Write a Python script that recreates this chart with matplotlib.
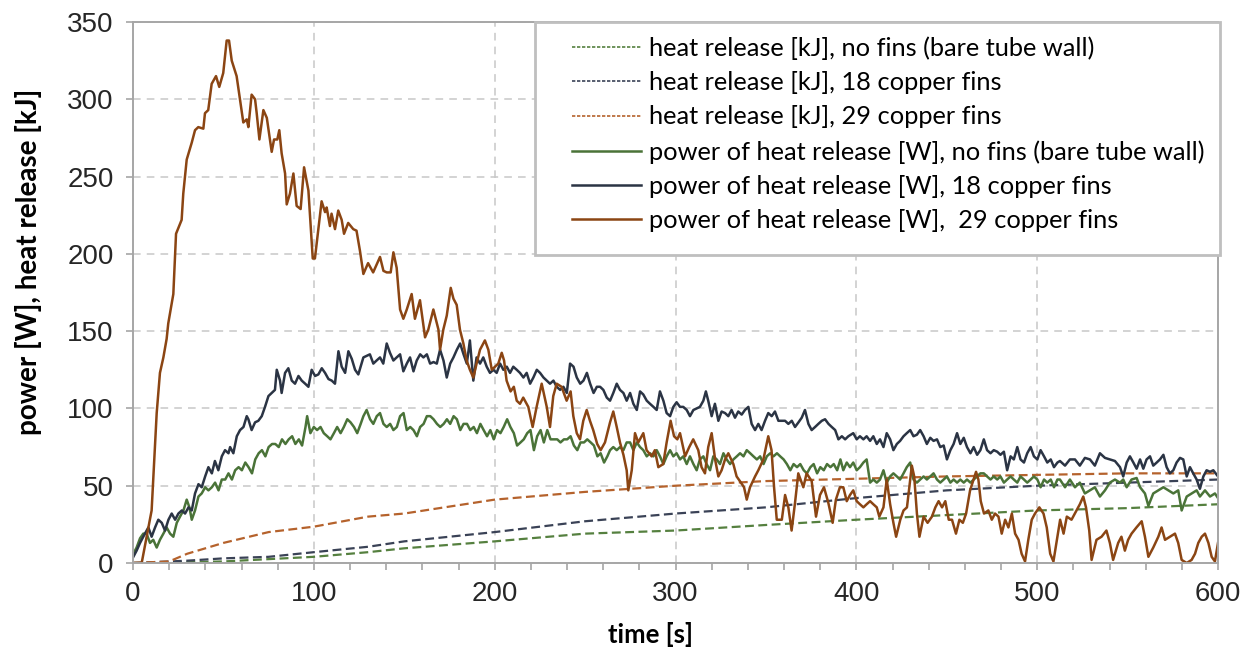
import matplotlib
matplotlib.use("Agg")
import matplotlib.pyplot as plt
from matplotlib.lines import Line2D
from matplotlib.patches import Rectangle

# power of heat release [W], 29 copper fins
t_p29 = [0, 4.8, 10.3, 13.1, 14.9, 16.8, 18.6, 19.5, 22.3, 23.8, 26.9, 27.8, 29.7, 32.5, 34.3, 36.1, 38.9, 39.8,
         41.6, 43.5, 45.9, 47.7, 49.9, 51.8, 53.1, 54.6, 57.3, 61, 62.9, 63.8, 65.6, 67.5, 68.4, 69.9, 72.1, 74,
         76.7, 78, 79.8, 80.9, 82.2, 84.1, 85, 86.8, 88.7, 90.5, 92.7, 94.6, 97, 99.4, 100.6, 104.3, 106.2, 107.1,
         108.9, 109.8, 111.7, 113.5, 115.4, 116.7, 119, 121.8, 123.6, 125.5, 127.4, 130, 132.8, 136.6, 138.5,
         140.3, 142.5, 144, 145.8, 147.7, 149.5, 151.4, 154.1, 155.9, 158.7, 161.5, 163.3, 166.1, 168.9, 169.8,
         171.6, 173.5, 175.7, 177.2, 179, 180.8, 182.7, 184.5, 186.3, 188.2, 190, 191.9, 194.6, 196.5, 198.4,
         200.2, 202, 203.9, 205.2, 206.6, 208.8, 210.6, 212.2, 214, 215.8, 218.6, 221, 223.2, 226, 228.8, 230.6,
         232.4, 234.3, 237, 239.8, 242, 243.5, 245.4, 247.2, 249, 250.9, 252.7, 254.5, 256.7, 258.6, 261, 263.8,
         265.6, 267.5, 269.3, 271.2, 273, 273.9, 275.8, 277.6, 279.4, 282.2, 284, 286.8, 288.6, 290.5, 293.2,
         295.1, 297.3, 299.2, 301, 302.5, 305.3, 307.6, 309.8, 312.6, 314.4, 316.3, 318.1, 320, 321.9, 323.7,
         325.5, 327.4, 329.2, 332, 333.8, 335.6, 337.9, 339.4, 341.2, 344, 345.8, 348.6, 351.3, 353.1, 354.5, 356,
         358.8, 360.6, 362.4, 364.2, 366.1, 367.9, 370.7, 372.5, 375.3, 377.7, 379.9, 382.1, 384.5, 386.9, 388.7,
         390.9, 392.8, 394.7, 396.5, 398.3, 400.2, 402, 403.9, 405.7, 407.6, 409.4, 411.3, 412.7, 415, 416.8,
         418.7, 420.5, 422, 424.3, 426.1, 428, 429.8, 430.7, 432, 433.5, 434.9, 437.2, 439.4, 441.8, 443.7, 445.5,
         447.4, 449.2, 451.1, 452.9, 455.1, 457, 458.9, 460.7, 462.9, 464.8, 466.2, 467.5, 468.8, 470.6, 473,
         474.9, 476.7, 478.6, 480.4, 482.3, 484.1, 486, 487.8, 489.7, 491.4, 493.3, 495.1, 497, 498.8, 501.2,
         503.5, 505.3, 507.2, 509, 510.9, 512.7, 514.6, 516.4, 519, 521.8, 523.6, 525.5, 527, 528.8, 530.1, 532.8,
         535.6, 538.3, 540.2, 542, 544.8, 546.6, 548.5, 550.3, 552.2, 554.9, 557.8, 559.6, 561.5, 564.2, 567,
         568.8, 570.7, 573.4, 576.2, 578, 579.9, 582.7, 585.4, 587.3, 589.1, 591, 592.8, 594.7, 596.5, 598.3, 600]
p29 = [0, 0, 34, 97, 123, 133, 145, 155, 174, 213, 222, 239, 261, 272, 280, 282, 281, 291,
       293, 310, 315, 308, 317, 338, 338, 325, 315, 285, 287, 282, 303, 300, 291, 274, 293, 288,
       266, 274, 274, 280, 265, 252, 232, 239, 252, 231, 229, 256, 241, 197, 197, 234, 227, 230,
       218, 226, 216, 228, 222, 213, 220, 216, 215, 202, 187, 194, 188, 198, 189,
       188, 188, 201, 191, 164, 158, 164, 174, 158, 170, 146, 151, 164, 151, 138,
       151, 160, 178, 171, 167, 151, 142, 131, 125, 120, 129, 138, 144, 138, 125,
       127, 129, 136, 131, 118, 111, 114, 105, 103, 107, 101, 88, 101, 116, 101, 88,
       108, 116, 114, 105, 111, 95, 84, 80, 92, 99, 92, 86, 77, 73, 78, 91,
       98, 88, 78, 70, 60, 47, 60, 84, 78, 84, 73, 69, 73, 62, 64,
       78, 92, 82, 80, 84, 69, 75, 80, 73, 62, 58, 75, 84, 67, 56,
       60, 67, 71, 64, 56, 53, 49, 41, 49, 56, 60, 67, 82, 73, 49, 28,
       28, 44, 36, 21, 39, 58, 49, 58, 53, 30, 44, 49, 39, 26, 41,
       49, 49, 40, 44, 47, 40, 38, 36, 38, 40, 38, 36, 30, 36, 54,
       38, 26, 17, 28, 34, 36, 54, 63, 56, 32, 17, 30, 26, 30, 36, 40,
       36, 40, 28, 28, 19, 28, 26, 32, 47, 54, 59, 54, 40, 32, 34,
       28, 32, 30, 19, 28, 23, 32, 19, 15, 6, 1, 15, 28, 32, 36,
       32, 23, 6, 1, 15, 28, 19, 30, 28, 34, 38, 43, 36, 21, 2, 15,
       17, 21, 13, 2, 13, 17, 8, 15, 19, 23, 27, 17, 4, 10, 17,
       23, 15, 17, 19, 13, 2, 0, 2, 6, 13, 17, 19, 13, 4, 1, 13]

# power of heat release [W], 18 copper fins
t_p18 = [0.2, 2, 3.9, 6.6, 8.5, 10.3, 12.2, 14, 15.9, 17.7, 19.6, 21.4, 23.3, 25.1, 27, 28.8, 30.7, 32.5, 34.3,
         36.2, 38, 39.9, 41.7, 43.6, 45.3, 47.2, 49.1, 50.9, 52.8, 53.7, 55.5, 57.4, 59.2, 61.1, 62.9, 63.8, 65.6,
         67.5, 69.3, 71.2, 73, 74.9, 76.7, 78.5, 79.5, 81.3, 82.2, 84.1, 85.9, 87.8, 89.6, 91.5, 93.3, 95.2, 97,
         98.8, 100.7, 102.5, 104.4, 106.2, 108.1, 109.9, 111.7, 113.6, 115.4, 117.3, 119.1, 121, 122.8, 124.6,
         127.4, 129.2, 131, 132.9, 134.7, 136.6, 138.4, 140.3, 142.1, 144, 145.8, 147.7, 149.5, 151.4, 153.2,
         155.1, 156.9, 158.8, 160.6, 162.5, 164.3, 166.2, 168, 169.8, 171.7, 173.5, 175.4, 177.2, 179.1, 180.9,
         182.8, 184.6, 186.3, 188.2, 190, 191.9, 193.7, 195.6, 197.4, 199.3, 201.1, 203, 204.8, 206.7, 208.5,
         210.3, 212.2, 214, 215.9, 217.7, 219.6, 221.4, 223.3, 225.1, 227, 228.8, 230.6, 232.5, 234.3, 236.2,
         238, 239.9, 241.7, 243.6, 245.4, 247.3, 249.1, 251, 252.8, 254.7, 256.5, 258.3, 260.1, 262, 263.8,
         265.6, 267.5, 269.3, 271.2, 273, 274.9, 276.7, 278.6, 280.4, 282.2, 284.1, 285.9, 287.8, 289.6, 291.4,
         293.3, 295.1, 297, 298.8, 300.6, 302.5, 304.3, 306.2, 308, 309.9, 311.7, 313.5, 315.4, 316.8, 318.1,
         320, 321.8, 323.7, 325.5, 327.4, 329.2, 331, 332.9, 334.7, 336.6, 338.4, 340.3, 342.1, 344, 345.8,
         347.6, 349.5, 351.3, 353.2, 355, 356.9, 358.7, 360.6, 362.4, 364.3, 366.1, 368, 369.8, 371.6, 373.5,
         375.3, 377.2, 379, 380.9, 382.7, 384.6, 386.4, 388.3, 390.1, 392, 393.8, 395.6, 398.3, 400.2, 402,
         403.9, 405.7, 407.6, 409.4, 411.3, 413.1, 415, 416.8, 418.7, 420.5, 422.4, 424.2, 426.1, 427.9, 429.8,
         431.6, 433.5, 435.3, 437.2, 439, 440.9, 442.7, 444.6, 446.4, 448.3, 450.1, 452, 453.8, 455.7, 457.5,
         459.4, 461.2, 463.1, 464.9, 466.8, 468.6, 470.5, 472.3, 474.2, 476, 477.9, 479.7, 481.6, 483.4, 485.3,
         487.1, 489, 490.8, 492.7, 494.5, 496.4, 498.2, 500.1, 501.9, 503.8, 505.6, 507.5, 509.3, 511.2, 512.6,
         515.4, 518.1, 520.9, 523.6, 526.4, 529.2, 531.9, 534.7, 537.5, 540.2, 543, 545.8, 547.6, 549.5, 551.3,
         553.2, 555, 556.9, 558.7, 560.5, 562.4, 564.2, 566.1, 567.9, 569.8, 571.6, 573.4, 575.3, 577.1, 579,
         580.8, 582.7, 584.5, 586.3, 588.2, 590, 591.9, 593.7, 595.6, 597.4, 600]
p18 = [4, 8, 13, 19, 23, 17, 23, 28, 26, 21, 28, 32, 28, 32, 34, 32, 36, 34, 45,
       51, 49, 56, 62, 58, 66, 60, 69, 73, 71, 75, 71, 82, 86, 88, 95, 93, 86,
       91, 92, 95, 101, 108, 110, 112, 125, 118, 110, 123, 126, 118, 116, 121, 118, 116, 114,
       125, 121, 122, 126, 123, 119, 118, 116, 137, 127, 123, 137, 132, 125, 122,
       133, 134, 135, 129, 131, 133, 129, 142, 136, 131, 133, 135, 124, 129, 133,
       124, 131, 135, 133, 135, 129, 130, 129, 138, 131, 120, 129, 133, 138, 142,
       135, 129, 144, 118, 133, 129, 133, 127, 123, 125, 123, 129, 125, 127, 123,
       127, 125, 123, 120, 123, 116, 120, 125, 123, 120, 118, 116, 118, 114, 112,
       114, 110, 129, 127, 120, 116, 118, 123, 116, 110, 114, 114, 112, 107, 105,
       110, 116, 112, 110, 105, 110, 103, 99, 111, 109, 105, 103, 101, 99, 111,
       105, 97, 95, 101, 104, 101, 101, 99, 95, 99, 100, 101, 105, 111, 105,
       95, 103, 92, 98, 97, 95, 99, 94, 98, 96, 99, 101, 90, 86, 90,
       86, 92, 97, 95, 98, 92, 92, 92, 90, 92, 88, 91, 94, 99, 90,
       86, 88, 90, 92, 93, 90, 88, 86, 80, 82, 80, 82, 84, 80, 82,
       80, 82, 79, 82, 77, 80, 75, 84, 80, 73, 77, 79, 82, 84, 86,
       82, 83, 86, 82, 77, 81, 79, 80, 75, 76, 67, 73, 77, 84, 77,
       81, 75, 71, 75, 70, 73, 80, 73, 71, 73, 72, 70, 72, 60, 69,
       67, 75, 67, 65, 71, 75, 69, 67, 73, 69, 65, 67, 62, 65, 66,
       63, 67, 67, 63, 68, 67, 63, 71, 68, 67, 66, 62, 56, 65, 69,
       65, 61, 67, 61, 67, 69, 63, 65, 67, 70, 62, 58, 60, 65, 68,
       67, 56, 62, 58, 54, 48, 56, 60, 59, 60, 56]

# power of heat release [W], no fins
t_p0 = [0.2, 2, 3.9, 5.7, 7.5, 9.4, 11.2, 13.1, 14.9, 16.8, 18.6, 20.5, 22.3, 24.2, 26, 27.9, 29.7, 31.2, 32.5,
        34.3, 36.2, 38, 39.9, 41.7, 43.6, 45.4, 47.3, 49.1, 51, 52.8, 54.7, 56.5, 58.4, 60.2, 62.1, 63.9, 65.8,
        67.6, 69.5, 71.3, 73.2, 75, 76.9, 78.7, 80.6, 82.4, 84.3, 86.1, 88, 89.8, 91.7, 93.5, 95.4, 96.3, 98.1,
        100, 101.8, 103.7, 105.5, 107.4, 109.2, 111.1, 112.9, 114.8, 116.6, 118.5, 120.3, 122.2, 124, 125.9,
        127.4, 129.2, 131.1, 132.9, 134.8, 136.6, 138.5, 140.3, 142.2, 144, 145.9, 147.7, 149.6, 151.4, 153.3,
        155.1, 157, 158.8, 160.7, 162.5, 164.4, 166.2, 168.1, 169.9, 171.8, 173.6, 175.4, 177.3, 179.1, 181,
        182.8, 184.7, 186.5, 188.4, 190.2, 192.1, 193.9, 195.8, 197.6, 199.5, 201.3, 203.2, 205, 206.9, 208.7,
        210.6, 212.4, 214.3, 216.1, 218, 219.8, 221.7, 223.5, 225.4, 227.2, 229.1, 230.9, 232.8, 234.6, 236.4,
        238.3, 240.1, 242, 243.8, 245.7, 247.5, 249.4, 251.2, 253.1, 254.9, 256.8, 258.6, 260.5, 262.3, 263.8,
        265.6, 267.5, 269.3, 271.2, 273, 274.9, 276.7, 278.6, 280.4, 282.2, 284.1, 285.9, 287.8, 289.6, 291.4,
        293.3, 295.1, 297, 298.8, 300.6, 302.5, 304.3, 306.2, 308, 309.9, 311.7, 313.5, 315.4, 317.2, 319.1,
        320.9, 322.8, 324.6, 326.5, 328.3, 330.2, 332, 333.9, 335.7, 337.6, 339.4, 341.3, 343.1, 345, 346.8,
        348.7, 350.5, 352.4, 354.2, 356.1, 357.9, 359.8, 361.6, 363.5, 365.3, 367.2, 369, 370.9, 372.7, 374.6,
        376.4, 378.3, 380.1, 382, 383.8, 385.7, 387.5, 389.4, 391.2, 392.8, 394.7, 396.5, 398.3, 400.2, 402,
        403.9, 405.7, 407.6, 409.4, 411.3, 413.1, 415, 416.8, 418.7, 420.5, 422.4, 424.2, 426.1, 427.9, 429.8,
        431.6, 433.5, 435.3, 437.2, 439, 440.9, 442.7, 444.6, 446.4, 448.3, 450.1, 452, 453.8, 455.7, 457.5,
        459.4, 461.2, 463.1, 464.9, 466.8, 468.6, 470.5, 472.3, 474.2, 476, 477.9, 479.7, 481.6, 483.4, 485.3,
        487.1, 489, 490.8, 492.7, 494.5, 496.4, 498.2, 500.1, 501.9, 503.8, 505.6, 507.5, 509.3, 511.2, 512.6,
        515.4, 518.1, 520.9, 523.6, 526.4, 529.2, 531.9, 534.7, 537.5, 540.2, 543, 545.8, 547.6, 549.5, 552.2,
        555, 556.9, 559.6, 561.5, 564.2, 567, 569.8, 572.5, 575.3, 578, 579.9, 582.7, 585.4, 588.2, 590, 592.8,
        595.6, 598.3, 600]
p0 = [6, 10, 16, 19, 19, 13, 15, 10, 15, 19, 23, 19, 17, 26, 30, 34, 41, 36, 28,
      34, 43, 45, 49, 47, 49, 52, 47, 54, 54, 58, 54, 60, 62, 60, 65, 62, 58,
      67, 71, 73, 69, 75, 77, 77, 75, 80, 77, 80, 82, 77, 80, 76, 88, 95, 84,
      88, 86, 88, 84, 82, 80, 84, 88, 84, 88, 93, 91, 88, 84, 90,
      95, 99, 93, 90, 95, 97, 90, 88, 90, 86, 88, 95, 97, 86, 88,
      86, 82, 88, 90, 95, 95, 93, 90, 88, 90, 93, 90, 95, 93, 86,
      90, 90, 86, 88, 84, 90, 86, 82, 86, 80, 86, 84, 88, 93, 88,
      84, 76, 78, 80, 84, 86, 73, 82, 86, 78, 86, 80, 80, 80, 78,
      80, 80, 82, 76, 73, 78, 78, 80, 78, 76, 69, 71, 65, 69, 73,
      75, 73, 75, 73, 78, 78, 73, 78, 75, 73, 69, 71, 69, 73, 69,
      64, 69, 73, 69, 71, 67, 69, 64, 69, 64, 60, 67, 69, 64, 60,
      69, 67, 64, 71, 67, 64, 67, 69, 71, 69, 73, 71, 69, 67, 69,
      64, 69, 71, 69, 71, 69, 67, 64, 60, 64, 62, 64, 60, 58, 62,
      64, 58, 62, 60, 64, 62, 64, 60, 67, 60, 65, 62, 65, 60, 62,
      65, 67, 52, 54, 52, 54, 60, 52, 56, 58, 56, 54, 58, 62, 65,
      54, 52, 54, 56, 54, 56, 58, 54, 52, 54, 56, 52, 54, 52, 54,
      52, 54, 52, 54, 56, 58, 58, 56, 54, 56, 54, 56, 52, 54, 56,
      54, 52, 56, 54, 52, 54, 56, 54, 49, 54, 52, 54, 49, 54, 54,
      49, 54, 49, 52, 45, 47, 49, 43, 47, 52, 54, 52, 54, 49, 54,
      55, 49, 45, 37, 45, 47, 49, 47, 45, 47, 34, 43, 45, 47, 43, 47,
      43, 45, 42]

# cumulative heat release [kJ]
t_q = [0, 20, 30, 50, 75, 100, 130, 150, 200, 250, 300, 350, 400, 450, 500, 550, 600]
q0 = [0, 0, 0.5, 1, 2.5, 4, 7, 9.5, 14, 19, 21, 24.6, 28, 31, 34, 35.5, 38]
q18 = [0, 1, 1.5, 3, 4, 7, 10.5, 14, 20, 27, 32, 36, 42, 47, 50, 52, 54]
q29 = [0, 1, 6, 13, 20, 23.5, 30, 32, 41, 46, 50, 53, 54.5, 56, 57, 58, 58]

labels = ["heat release [kJ], no fins (bare tube wall)",
          "heat release [kJ], 18 copper fins",
          "heat release [kJ], 29 copper fins",
          "power of heat release [W], no fins (bare tube wall)",
          "power of heat release [W], 18 copper fins",
          "power of heat release [W],  29 copper fins"]

green = "#4a7338"
navy = "#2b3444"
brown = "#8b4513"
green_d = "#55803f"
navy_d = "#3a4256"
brown_d = "#b5622c"

fig = plt.figure(figsize=(12.53, 6.55), dpi=100)
ax = fig.add_axes([133 / 1253, 92 / 655, 1085 / 1253, 541 / 655])

ax.plot(t_q, q0, color=green_d, lw=1.6, ls=(0, (4, 2)))
ax.plot(t_q, q18, color=navy_d, lw=1.6, ls=(0, (4, 2)))
ax.plot(t_q, q29, color=brown_d, lw=1.6, ls=(0, (4, 2)))
ax.plot(t_p0, p0, color=green, lw=1.8)
ax.plot(t_p18, p18, color=navy, lw=1.8)
ax.plot(t_p29, p29, color=brown, lw=1.8)

ax.set_xlim(0, 600)
ax.set_ylim(0, 350)
ax.set_xticks(range(0, 601, 100))
ax.set_xticks(range(0, 601, 20), minor=True)
ax.set_yticks(range(0, 351, 50))
ax.set_axisbelow(True)
ax.grid(True, which="major", color="#c8c8c8", lw=1.1, ls=(0, (5, 4)))
for s in ax.spines.values():
    s.set_color("#a6a6a6")
    s.set_linewidth(1.4)
ax.tick_params(which="both", direction="out", length=5, color="#a6a6a6", width=1.2)
ax.tick_params(axis="y", labelsize=20, pad=9)
ax.tick_params(axis="x", labelsize=20, pad=8)
for lab in ax.get_xticklabels() + ax.get_yticklabels():
    lab.set_family("Liberation Sans")
    lab.set_color("#262626")

ax.set_xlabel("time [s]", fontsize=18.5, fontweight="bold", family="Lato")
ax.set_ylabel("power [W], heat release [kJ]", fontsize=20, fontweight="bold", family="Lato")
ax.xaxis.set_label_coords((650 - 133) / 1085, (563 - 622) / 541)
ax.yaxis.set_label_coords((42 - 133) / 1085, (563 - 262) / 541)

# legend frame drawn separately so the entries can sit indented inside it
box = Rectangle(((535 - 133) / 1085, (563 - 255) / 541), (1220 - 535) / 1085, (255 - 22) / 541,
                transform=ax.transAxes, facecolor="white", edgecolor="#bfbfbf", lw=2, zorder=4, clip_on=False)
ax.add_patch(box)

handles = [Line2D([], [], color=green_d, lw=1.2, ls=(0, (2, 1))),
           Line2D([], [], color=navy_d, lw=1.2, ls=(0, (2, 1))),
           Line2D([], [], color=brown_d, lw=1.2, ls=(0, (2, 1))),
           Line2D([], [], color=green, lw=1.8),
           Line2D([], [], color=navy, lw=1.8),
           Line2D([], [], color=brown, lw=1.8)]
leg = ax.legend(handles, labels, loc="upper left", bbox_to_anchor=((572 - 133) / 1085, (563 - 36) / 541),
                prop={"family": "Lato", "size": 18.3}, frameon=False, borderpad=0,
                labelspacing=0.45, handlelength=2.7, handletextpad=0.32, borderaxespad=0)
leg.set_zorder(5)

fig.savefig("out.png", dpi=100)
